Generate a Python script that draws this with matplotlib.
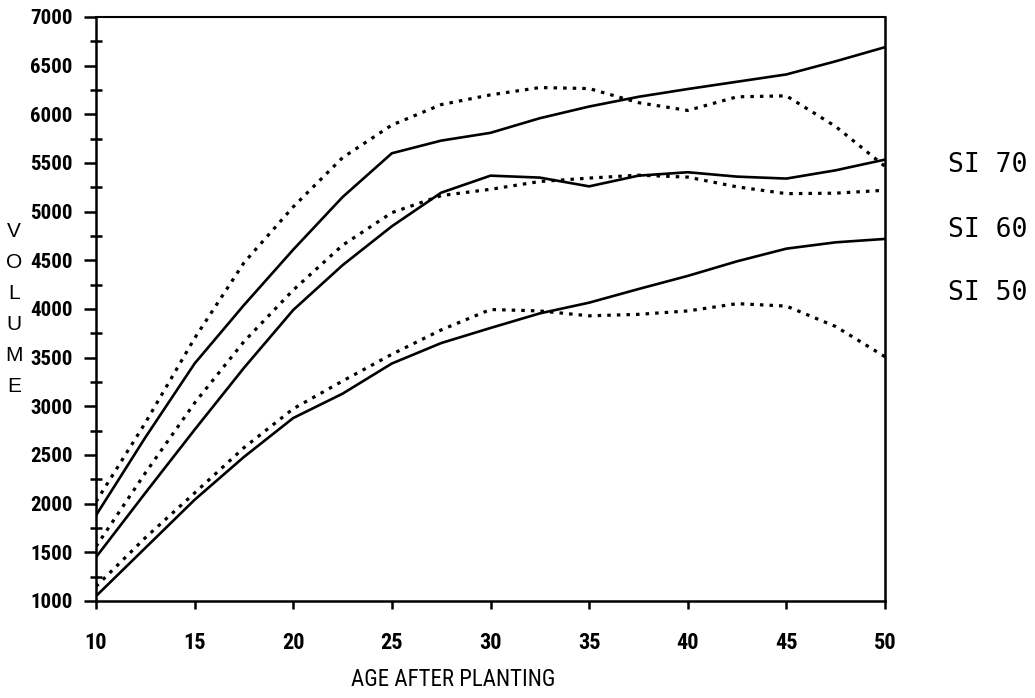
import matplotlib
matplotlib.use("Agg")
import matplotlib.pyplot as plt
from matplotlib.ticker import MultipleLocator

# ages
age = [10, 12.5, 15, 17.5, 20, 22.5, 25, 27.5, 30, 32.5, 35, 37.5, 40, 42.5, 45, 47.5, 50]

# solid curves
si70_solid = [1880, 2680, 3440, 4040, 4610, 5150, 5600, 5730, 5810, 5960, 6080, 6180, 6260, 6335, 6410, 6545, 6690]
si60_solid = [1450, 2110, 2760, 3395, 3990, 4450, 4850, 5195, 5370, 5350, 5260, 5370, 5405, 5360, 5340, 5425, 5535]
si50_solid = [1050, 1545, 2040, 2480, 2880, 3130, 3440, 3650, 3805, 3955, 4065, 4205, 4340, 4490, 4620, 4685, 4720]

# dotted curves
si70_dot = [2020, 2830, 3700, 4475, 5050, 5555, 5890, 6100, 6200, 6275, 6265, 6120, 6040, 6180, 6190, 5875, 5465]
si60_dot = [1560, 2315, 3035, 3665, 4195, 4655, 4990, 5165, 5230, 5310, 5345, 5375, 5355, 5255, 5185, 5190, 5220]
si50_dot = [1150, 1650, 2110, 2575, 2975, 3260, 3535, 3785, 3995, 3980, 3930, 3945, 3980, 4055, 4030, 3820, 3510]

labels = ["SI 70", "SI 60", "SI 50"]

narrow = ["Roboto Condensed", "Liberation Sans", "DejaVu Sans"]

fig = plt.figure(figsize=(10.35, 6.98), dpi=100)
ax = fig.add_axes([96 / 1035, 1 - 601 / 698, (885 - 96) / 1035, (601 - 17) / 698])

for ys in [si70_solid, si60_solid, si50_solid]:
    ax.plot(age, ys, color="black", lw=1.9, solid_capstyle="round", solid_joinstyle="round")
for ys in [si70_dot, si60_dot, si50_dot]:
    ax.plot(age, ys, color="black", lw=2.3, linestyle=(0, (1.1, 1.9)))

ax.set_xlim(10, 50)
ax.set_ylim(1000, 7000)
ax.xaxis.set_major_locator(MultipleLocator(5))
ax.yaxis.set_major_locator(MultipleLocator(500))
ax.yaxis.set_minor_locator(MultipleLocator(250))

for s in ax.spines.values():
    s.set_linewidth(1.8)
ax.spines["top"].set_linewidth(1.5)

ax.tick_params(axis="x", which="major", direction="out", length=6, width=1.8, pad=16)
ax.tick_params(axis="y", which="major", direction="out", length=9, width=1.8, pad=8)
ax.tick_params(axis="y", which="minor", direction="inout", length=9, width=1.8)
for lab in ax.get_xticklabels():
    lab.set_fontfamily(narrow)
    lab.set_fontweight("bold")
    lab.set_fontsize(16)
for lab in ax.get_yticklabels():
    lab.set_fontfamily(narrow)
    lab.set_fontweight("bold")
    lab.set_fontsize(15)

fig.text(453 / 1035, 1 - 679 / 698, "AGE AFTER PLANTING", ha="center", va="center",
         fontsize=16.5, family=narrow)
fig.text(14 / 1035, 1 - 309 / 698, "V\nO\nL\nU\nM\nE", ha="center", va="center",
         fontsize=15, linespacing=1.8, family=["Liberation Sans", "DejaVu Sans"])

for lab, yp in zip(labels, [165, 230, 293]):
    fig.text(948 / 1035, 1 - yp / 698, lab, ha="left", va="center",
             fontsize=19, family="DejaVu Sans Mono")

fig.savefig("out.png", dpi=100)
